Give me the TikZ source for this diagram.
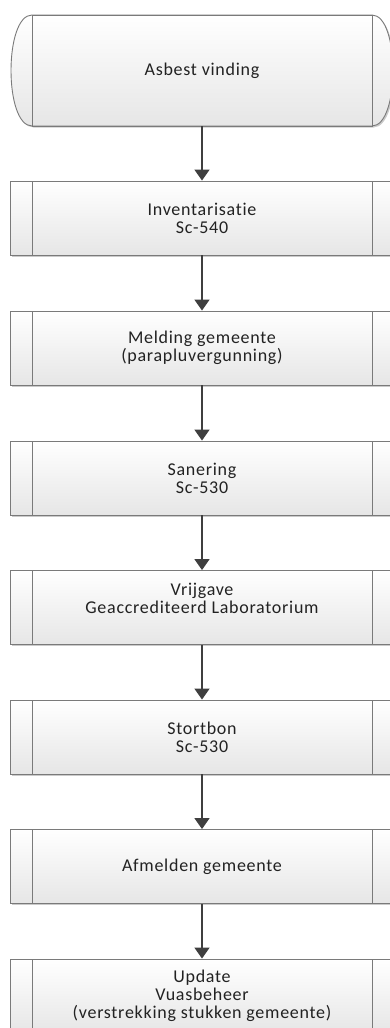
\documentclass[tikz,border=0pt]{standalone}
\usepackage{fontspec}
\setmainfont{Carlito}[LetterSpace=4, Ligatures=NoCommon]
\usetikzlibrary{arrows.meta,shadows}
\definecolor{boxline}{HTML}{7A7A7A}
\definecolor{arrowc}{HTML}{3F3F3F}
\definecolor{txt}{HTML}{222222}
\definecolor{fillbot}{HTML}{E6E6E6}
\tikzset{
  procbox/.style={rectangle, draw=boxline, line width=0.9pt, minimum width=384pt, minimum height=74pt, inner sep=0pt,
    top color=white, bottom color=fillbot,
    drop shadow={shadow xshift=1.5pt, shadow yshift=-1.5pt, fill=black!35, opacity=0.6},
    path picture={\draw[boxline, line width=0.9pt] ([xshift=22pt]path picture bounding box.north west) -- ([xshift=22pt]path picture bounding box.south west);
                  \draw[boxline, line width=0.9pt] ([xshift=-22pt]path picture bounding box.north east) -- ([xshift=-22pt]path picture bounding box.south east);}},
  label/.style={align=center, text=txt, font=\fontsize{18}{18}\selectfont, inner sep=0pt},
  arr/.style={draw=arrowc, line width=1.6pt, -{Triangle[width=15pt,length=11pt]}}
}
\begin{document}
\begin{tikzpicture}[x=1pt,y=-1pt]
\useasboundingbox (0,0) rectangle (390,1028);
% start terminator
\fill[black!35, opacity=0.6, xshift=1.5pt, yshift=-1.5pt] (32,15) -- (372,15) .. controls (400,15) and (400,126) .. (372,126) -- (32,126) .. controls (4,126) and (4,15) .. (32,15) -- cycle;
\shade[top color=white, bottom color=fillbot] (32,15) -- (372,15) .. controls (400,15) and (400,126) .. (372,126) -- (32,126) .. controls (4,126) and (4,15) .. (32,15) -- cycle;
\draw[boxline, line width=0.9pt] (32,15) -- (372,15) .. controls (400,15) and (400,126) .. (372,126) -- (32,126) .. controls (4,126) and (4,15) .. (32,15) -- cycle;
\node[rectangle, minimum width=340pt, minimum height=111pt, inner sep=0pt, draw=boxline, line width=0.9pt] (s) at (202,70.5) {};
\node[label] (st) at (s.center) {Asbest vinding};
% process boxes
\node[procbox] (b2) at (202,218) {};
\node[label] (t2) at (b2.center) {Inventarisatie\\Sc-540};
\node[procbox] (b3) at (202,348) {};
\node[label] (t3) at (b3.center) {Melding gemeente\\(parapluvergunning)};
\node[procbox] (b4) at (202,478) {};
\node[label] (t4) at (b4.center) {Sanering\\Sc-530};
\node[procbox] (b5) at (202,607.5) {};
\node[label, yshift=9pt] (t5) at (b5.center) {Vrijgave\\Geaccrediteerd Laboratorium};
\node[procbox] (b6) at (202,737) {};
\node[label] (t6) at (b6.center) {Stortbon\\Sc-530};
\node[procbox] (b7) at (202,866.5) {};
\node[label] (t7) at (b7.center) {Afmelden gemeente};
\node[procbox] (b8) at (202,996) {};
\node[label] (t8) at (b8.center) {Update\\Vuasbeheer\\(verstrekking stukken gemeente)};
% arrows
\draw[arr] (s.south) -- (b2.north);
\draw[arr] (b2.south) -- (b3.north);
\draw[arr] (b3.south) -- (b4.north);
\draw[arr] (b4.south) -- (b5.north);
\draw[arr] (b5.south) -- (b6.north);
\draw[arr] (b6.south) -- (b7.north);
\draw[arr] (b7.south) -- (b8.north);
\end{tikzpicture}
\end{document}
